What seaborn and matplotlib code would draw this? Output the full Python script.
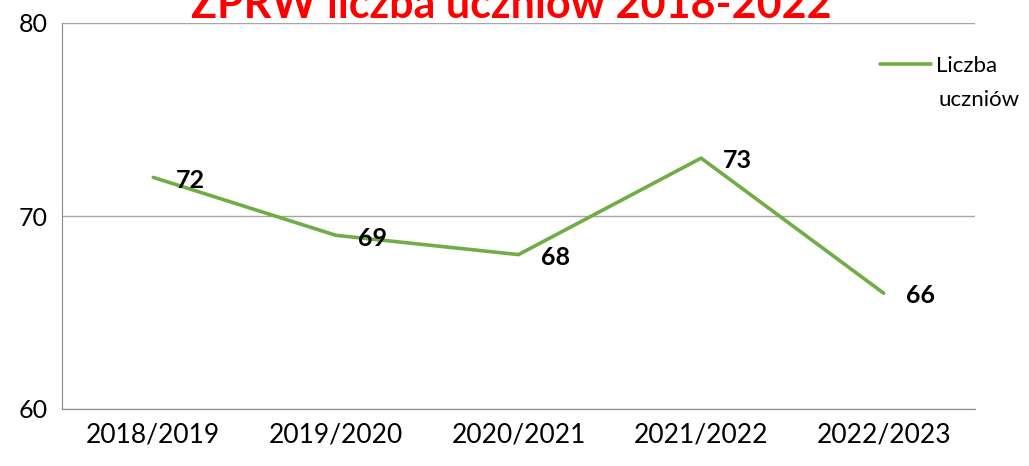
import seaborn as sns
import matplotlib.pyplot as plt
import pandas as pd

years = ["2018/2019", "2019/2020", "2020/2021", "2021/2022", "2022/2023"]
students = [72, 69, 68, 73, 66]

df = pd.DataFrame({"Rok": years, "Liczba uczniów": students})

sns.set_style("white")
plt.rcParams['font.family'] = ['Lato', 'DejaVu Sans']
plt.rcParams['text.color'] = 'black'
plt.rcParams['xtick.color'] = 'black'
plt.rcParams['ytick.color'] = 'black'

fig = plt.figure(figsize=(10.29, 4.66), dpi=100)
ax = fig.add_axes([62 / 1029, 1 - 409 / 466, (975 - 62) / 1029, (409 - 23) / 466])

sns.lineplot(x="Rok", y="Liczba uczniów", data=df, ax=ax, color="#70AD47",
             linewidth=2.6, sort=False, label="Liczba")

for i, v in enumerate(students):
    ax.annotate(str(v), (i, v), xytext=(16, -2), textcoords="offset points",
                fontsize=18, fontweight="bold", ha="left", va="center")

ax.set_xlim(-0.5, 4.5)
ax.set_ylim(60, 80)
ax.set_yticks([60, 70, 80])
ax.set_xticks(range(len(years)))
ax.set_xticklabels(years)
ax.set_xticks([-0.5, 0.5, 1.5, 2.5, 3.5, 4.5], minor=True)
ax.tick_params(axis="x", which="major", length=0, labelsize=19, labelcolor="black", pad=10)
ax.tick_params(axis="x", which="minor", length=7, color="#888888", direction="out")
ax.tick_params(axis="y", length=6, color="#888888", labelsize=18, labelcolor="black",
               direction="out", pad=4)
ax.set_xlabel("")
ax.set_ylabel("")

ax.grid(axis="y", color="#a6a6a6", linewidth=1)
ax.spines["top"].set_visible(False)
ax.spines["right"].set_visible(False)
ax.spines["left"].set_color("#888888")
ax.spines["bottom"].set_color("#888888")

# legend: line + "Liczba", second word on its own line below (as in the original)
leg = ax.legend(loc="upper left", bbox_to_anchor=(0.896, 0.915), frameon=False,
                fontsize=16, handlelength=2.3, handletextpad=0.2, borderaxespad=0,
                borderpad=0)
for t in leg.get_texts():
    t.set_color("black")
fig.text(938 / 1029, 1 - 100 / 466, "uczniów", fontsize=16, ha="left", va="center")

fig.text(0.497, 0.99, "ZPRW liczba uczniów 2018-2022", color="#FF0000",
         fontsize=31, fontweight="bold", ha="center", va="center")

plt.savefig("out.png", dpi=100)
